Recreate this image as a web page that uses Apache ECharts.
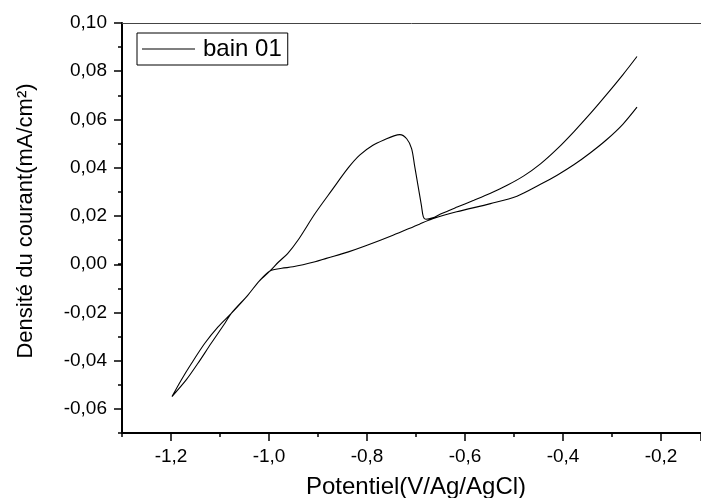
<!DOCTYPE html>
<html>
<head>
<meta charset="utf-8">
<script src="https://cdn.jsdelivr.net/npm/echarts@6/dist/echarts.min.js"></script>
<style>html,body{margin:0;padding:0;background:#fff;overflow:hidden;}#c{width:701px;height:498px;}</style>
</head>
<body>
<div id="c"></div>
<script>
// Potential (V vs Ag/AgCl), path order
const potential = [
  -0.249, -0.278, -0.310, -0.344, -0.378, -0.412, -0.446, -0.494, -0.548, -0.617, -0.666, -0.693,
  -0.747, -0.804, -0.838, -0.883, -0.906, -0.951, -0.974, -0.998,
  -1.020, -1.043, -1.077, -1.090, -1.118, -1.145, -1.169, -1.198,
  -1.179, -1.158, -1.131, -1.104, -1.077, -1.043, -1.020, -0.998,
  -0.980, -0.962, -0.941, -0.906, -0.872, -0.838, -0.815, -0.788, -0.760, -0.745, -0.733,
  -0.719, -0.709, -0.703, -0.696, -0.689, -0.685, -0.680, -0.666, -0.650, -0.616, -0.582,
  -0.548, -0.514, -0.480, -0.446, -0.412, -0.378, -0.344, -0.310, -0.278, -0.249
];
// Current density (mA/cm2)
const current = [
  0.0651, 0.0580, 0.0518, 0.0462, 0.0412, 0.0369, 0.0331, 0.0282, 0.0251, 0.0217, 0.0188, 0.0166,
  0.0120, 0.0075, 0.0051, 0.0024, 0.0010, -0.0011, -0.0017, -0.0028,
  -0.0070, -0.0128, -0.0204, -0.0245, -0.0328, -0.0411, -0.0480, -0.0549,
  -0.0480, -0.0411, -0.0328, -0.0260, -0.0204, -0.0128, -0.0070, -0.0028,
  0.0010, 0.0044, 0.0099, 0.0210, 0.0306, 0.0400, 0.0452, 0.0493, 0.0520, 0.0532, 0.0537,
  0.0520, 0.0479, 0.0410, 0.0327, 0.0244, 0.0196, 0.0186, 0.0192, 0.0208, 0.0237, 0.0265,
  0.0294, 0.0327, 0.0366, 0.0416, 0.0478, 0.0549, 0.0625, 0.0706, 0.0785, 0.0861
];
const seriesName = 'bain 01';
const xMin = -1.3;
const xMax = -0.1184;   // the plot is cut at the right edge of the picture
const xTickValues = [-1.2, -1.0, -0.8, -0.6, -0.4, -0.2];
const xTickLabels = ['-1,2', '-1,0', '-0,8', '-0,6', '-0,4', '-0,2'];
const yTickValues = [-0.06, -0.04, -0.02, 0.00, 0.02, 0.04, 0.06, 0.08, 0.10];
const yTickLabels = ['-0,06', '-0,04', '-0,02', '0,00', '0,02', '0,04', '0,06', '0,08', '0,10'];
const xTitle = 'Potentiel(V/Ag/AgCl)';
const yTitle = 'Densité du courant(mA/cm²)';

function lookup(vals, labels, v) {
  for (let i = 0; i < vals.length; i++) if (Math.abs(vals[i] - v) < 1e-6) return labels[i];
  return '';
}

const FONT = 'Liberation Sans';
const chart = echarts.init(document.getElementById('c'), null, {renderer: 'canvas'});
const data = potential.map((p, i) => [p, current[i]]);

chart.setOption({
  animation: false,
  backgroundColor: '#fff',
  grid: [
    {left: 122, top: 23, width: 579, height: 410, outerBoundsMode: 'none', containLabel: false},
    {left: 171, top: 23, width: 530, height: 410, outerBoundsMode: 'none', containLabel: false},
    {left: 122, top: 23, width: 579, height: 386, outerBoundsMode: 'none', containLabel: false}
  ],
  xAxis: [
    {type: 'value', gridIndex: 0, min: xMin, max: xMax, interval: 0.1,
     axisLine: {show: true, onZero: false, lineStyle: {color: '#000', width: 2}},
     axisTick: {show: true, length: 4, lineStyle: {color: '#000', width: 1.5}},
     axisLabel: {show: false}, splitLine: {show: false},
     name: xTitle, nameLocation: 'middle', nameGap: 42,
     nameTextStyle: {fontFamily: FONT, fontSize: 24, color: '#000', padding: [0, 0, 0, 9]}},
    {type: 'value', gridIndex: 1, min: -1.2, max: xMax, interval: 0.2,
     axisLine: {show: false},
     axisTick: {show: true, length: 8, lineStyle: {color: '#000', width: 1.5}},
     axisLabel: {show: true, margin: 14, fontFamily: FONT, fontSize: 19, color: '#000',
       formatter: v => lookup(xTickValues, xTickLabels, v)},
     splitLine: {show: false}},
    {type: 'value', gridIndex: 2, min: xMin, max: xMax, position: 'top',
     axisLine: {show: true, onZero: false, lineStyle: {color: '#444', width: 1}},
     axisTick: {show: false}, axisLabel: {show: false}, splitLine: {show: false}}
  ],
  yAxis: [
    {type: 'value', gridIndex: 0, min: -0.07, max: 0.10, interval: 0.01,
     axisLine: {show: true, onZero: false, lineStyle: {color: '#000', width: 2}},
     axisTick: {show: true, length: 4, lineStyle: {color: '#000', width: 1.5}},
     axisLabel: {show: false}, splitLine: {show: false},
     name: yTitle, nameLocation: 'middle', nameGap: 85, nameRotate: 90,
     nameTextStyle: {fontFamily: FONT, fontSize: 22, color: '#000', padding: [0, 0, 0, 14]}},
    {type: 'value', gridIndex: 1, min: 0, max: 1, show: false},
    {type: 'value', gridIndex: 2, min: -0.06, max: 0.10, interval: 0.02,
     axisLine: {show: false},
     axisTick: {show: true, length: 8, lineStyle: {color: '#000', width: 1.5}},
     axisLabel: {show: true, margin: 15, fontFamily: FONT, fontSize: 19, color: '#000',
       formatter: v => lookup(yTickValues, yTickLabels, v)},
     splitLine: {show: false}}
  ],
  legend: {
    left: 137, top: 33, orient: 'vertical', padding: [4, 6, 4, 5],
    borderColor: '#000', borderWidth: 1,
    itemWidth: 53, itemHeight: 1.2, itemGap: 0,
    textStyle: {fontFamily: FONT, fontSize: 24, color: '#000', lineHeight: 21, padding: [0, 0, 0, 3]},
    data: [{name: seriesName, icon: 'rect', itemStyle: {color: '#000'}}]
  },
  series: [{
    name: seriesName, type: 'line', xAxisIndex: 0, yAxisIndex: 0,
    data: data, symbol: 'none', showSymbol: false, smooth: 0.3,
    lineStyle: {color: '#000', width: 1.1}, itemStyle: {color: '#000'}
  }]
});
</script>
</body>
</html>
